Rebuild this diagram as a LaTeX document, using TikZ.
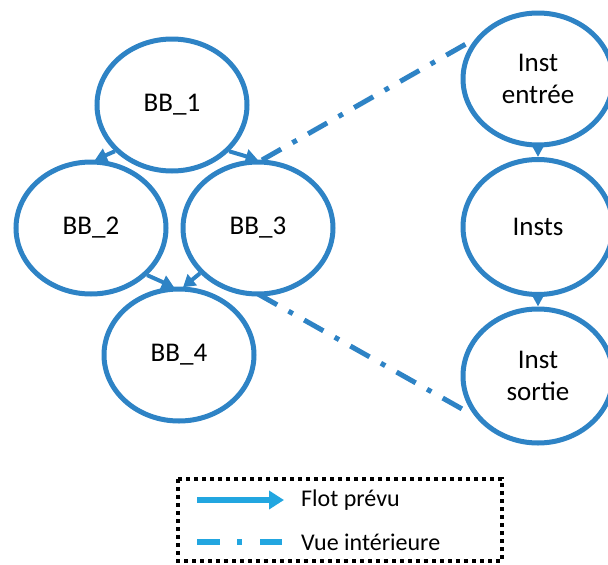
\documentclass[tikz,border=0pt]{standalone}
\usepackage{fontspec}
\setmainfont{Carlito}
\usetikzlibrary{shapes.geometric,arrows.meta}
\definecolor{nodeblue}{HTML}{2E83C5}
\definecolor{legblue}{HTML}{22A6E0}
\tikzset{
  bb/.style={ellipse, draw=nodeblue, line width=5pt, fill=white, inner sep=0pt,
    minimum width=150pt, minimum height=132pt, font=\fontsize{27}{32}\selectfont, align=center},
  flow/.style={draw=nodeblue, line width=4pt, -{Triangle[length=12pt,width=14pt]}},
  view/.style={draw=nodeblue, line width=5pt, dash pattern=on 22pt off 13pt on 5pt off 13pt},
  legtext/.style={anchor=west, font=\fontsize{24}{28}\selectfont, inner sep=0pt}
}
\begin{document}
\begin{tikzpicture}[x=1pt,y=-1pt]
\useasboundingbox (0,0) rectangle (608,565);
% dash-dot lines behind nodes
\coordinate (d1s) at (262,160);
\coordinate (d1e) at (473,40);
\coordinate (d2s) at (258,294);
\coordinate (d2e) at (471,414);
\draw[view] (d1s) -- (d1e);
\draw[view] (d2s) -- (d2e);
% left nodes
\node[bb] (b1) at (172,105) {BB\_1};
\node[bb] (b2) at (91,228) {BB\_2};
\node[bb] (b3) at (258,228) {BB\_3};
\node[bb] (b4) at (179,355) {BB\_4};
% right nodes
\node[bb] (ie) at (538,79) {Inst\\entrée};
\node[bb, minimum height=135pt] (is) at (538,227) {Insts};
\node[bb, minimum height=134pt] (io) at (538,376) {Inst\\sortie};
% flows
\draw[flow, shorten >=-1pt] (b1.219) -- (b2.86);
\draw[flow, shorten >=-1pt] (b1.321) -- (b3.91);
\draw[flow, shorten >=-1pt] (b2.320) -- (b4.95);
\draw[flow, shorten >=-1pt] (b3.218) -- (b4.86);
\draw[flow, -{Triangle[length=14pt,width=14pt]}] (ie.south) -- (is.north);
\draw[flow, -{Triangle[length=14pt,width=14pt]}] (is.south) -- (io.north);
% legend
\draw[line width=4pt, dash pattern=on 4pt off 4pt] (178,479) rectangle (502,561);
\coordinate (la1) at (197,500);
\coordinate (la2) at (284,500);
\coordinate (lb1) at (197,542);
\coordinate (lb2) at (282,542);
\draw[legblue, line width=6pt, -{Triangle[length=15pt,width=18pt]}] (la1) -- (la2);
\draw[legblue, line width=6pt, dash pattern=on 23pt off 17pt on 5pt off 18pt] (lb1) -- (lb2);
\node[legtext] (lt1) at (301,500) {Flot prévu};
\node[legtext] (lt2) at (301,542) {Vue intérieure};
\end{tikzpicture}
\end{document}
